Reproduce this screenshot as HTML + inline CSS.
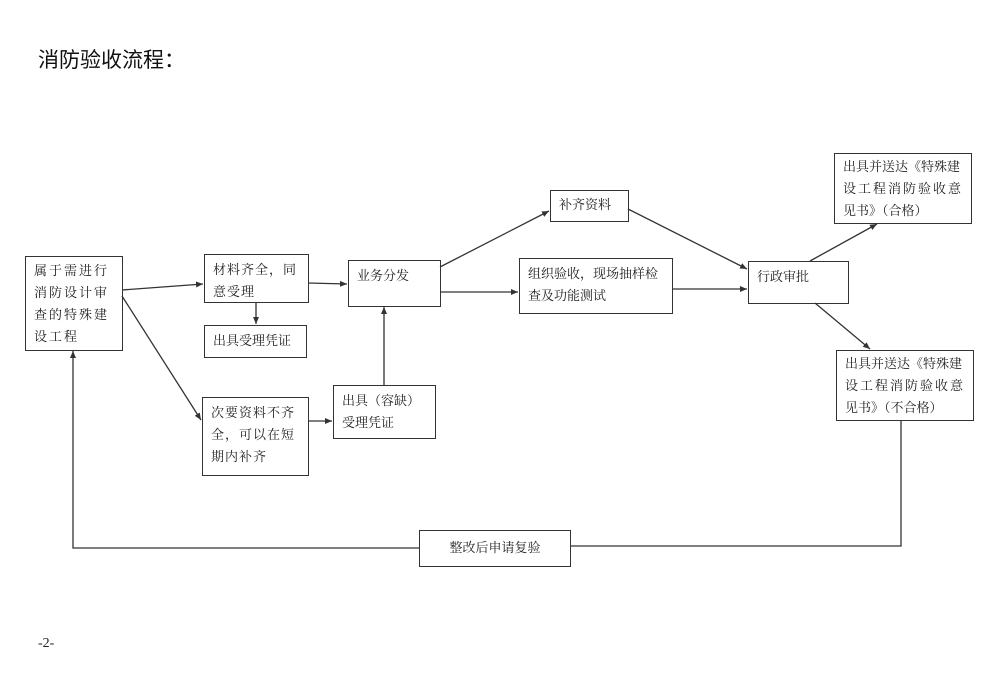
<!DOCTYPE html>
<html><head><meta charset="utf-8"><style>
body{margin:0;width:1000px;height:679px;background:#fff;overflow:hidden;font-family:"Liberation Serif","Noto Serif CJK SC","Noto Sans CJK SC",serif;}
.b{position:absolute;border:1.5px solid #333;box-sizing:border-box;font-size:13px;line-height:22px;color:#222;padding:4px 8px;}
.t{position:absolute;}
.n{white-space:nowrap;}
</style></head><body>
<div class="t" style="left:38px;top:44px;font-size:21px;font-family:'Liberation Sans','Noto Sans CJK SC',sans-serif;color:#111">消防验收流程：</div>
<div class="t" style="left:38px;top:636px;font-size:14px;color:#222">-2-</div>
<svg width="1000" height="679" style="position:absolute;left:0;top:0">
<defs><marker id="a" markerWidth="8" markerHeight="8" refX="7" refY="4" orient="auto" markerUnits="userSpaceOnUse"><path d="M0,1 L7,4 L0,7 Z" fill="#333"/></marker></defs>
<g stroke="#333" stroke-width="1.3" fill="none">
<line x1="122" y1="290" x2="203" y2="284" marker-end="url(#a)"/>
<line x1="122" y1="296" x2="201" y2="420" marker-end="url(#a)"/>
<line x1="308" y1="283" x2="347" y2="284" marker-end="url(#a)"/>
<line x1="256" y1="302" x2="256" y2="324" marker-end="url(#a)"/>
<line x1="308" y1="421" x2="332" y2="421" marker-end="url(#a)"/>
<line x1="384" y1="385" x2="384" y2="307" marker-end="url(#a)"/>
<line x1="440" y1="267" x2="549" y2="211" marker-end="url(#a)"/>
<line x1="440" y1="292" x2="518" y2="292" marker-end="url(#a)"/>
<line x1="628" y1="209" x2="747" y2="269" marker-end="url(#a)"/>
<line x1="672" y1="289" x2="747" y2="289" marker-end="url(#a)"/>
<line x1="810" y1="261" x2="877" y2="224" marker-end="url(#a)"/>
<line x1="815" y1="303" x2="870" y2="349" marker-end="url(#a)"/>
<polyline points="901,420 901,546 570,546"/>
<polyline points="419,548 73,548 73,351" marker-end="url(#a)"/>
</g></svg>
<div class="b" style="left:25px;top:256px;width:98px;height:95px;line-height:22px;letter-spacing:2px;padding-top:3px">属于需进行消防设计审查的特殊建设工程</div>
<div class="b" style="left:204px;top:254px;width:105px;height:49px;letter-spacing:1px">材料齐全，同意受理</div>
<div class="b" style="left:204px;top:325px;width:103px;height:33px;padding-top:4px">出具受理凭证</div>
<div class="b" style="left:202px;top:397px;width:107px;height:79px;letter-spacing:1px">次要资料不齐全，可以在短期内补齐</div>
<div class="b" style="left:333px;top:385px;width:103px;height:54px">出具（容缺）受理凭证</div>
<div class="b" style="left:348px;top:260px;width:93px;height:47px">业务分发</div>
<div class="b" style="left:550px;top:190px;width:79px;height:32px;padding-top:3px">补齐资料</div>
<div class="b" style="left:519px;top:258px;width:154px;height:56px">组织验收，现场抽样检查及功能测试</div>
<div class="b" style="left:748px;top:261px;width:101px;height:43px">行政审批</div>
<div class="b n" style="left:834px;top:153px;width:138px;height:71px;padding-top:2px">出具并送达《特殊建<br><span style="letter-spacing:2px">设工程消防验收意</span><br>见书》（合格）</div>
<div class="b n" style="left:836px;top:350px;width:138px;height:71px;padding-top:2px">出具并送达《特殊建<br><span style="letter-spacing:2px">设工程消防验收意</span><br>见书》（不合格）</div>
<div class="b" style="left:419px;top:530px;width:152px;height:37px;text-align:center;padding-top:6px">整改后申请复验</div>
</body></html>
